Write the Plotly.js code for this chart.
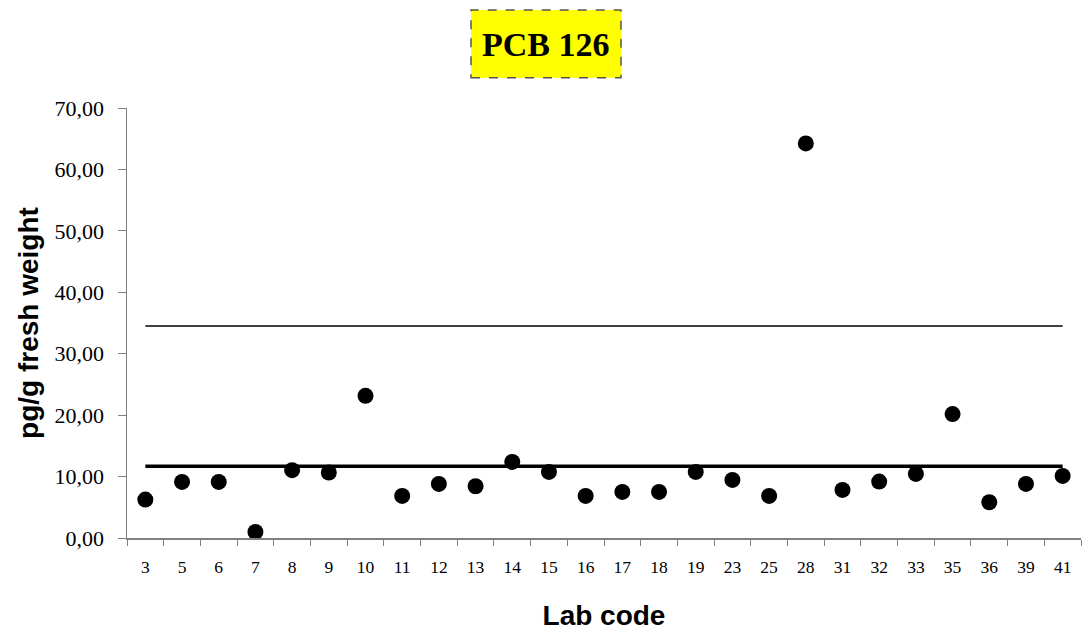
<!DOCTYPE html>
<html>
<head>
<meta charset="utf-8">
<script src="https://cdn.plot.ly/plotly-3.0.1.min.js"></script>
<style>html,body{margin:0;padding:0;background:#fff;}#chart{width:1082px;height:633px;}</style>
</head>
<body>
<div id="chart"></div>
<script>
// Data
const labCodes = ["3","5","6","7","8","9","10","11","12","13","14","15","16","17","18","19","23","25","28","31","32","33","35","36","39","41"];
const values = [6.26,9.13,9.13,0.98,11.04,10.66,23.15,6.85,8.80,8.43,12.39,10.76,6.85,7.50,7.50,10.76,9.46,6.85,64.23,7.83,9.19,10.43,20.17,5.82,8.80,10.10];
const assignedValue = 11.69;
const upperLimit = 34.51;
const yTickVals = [0,10,20,30,40,50,60,70];
const yTickText = ["0,00","10,00","20,00","30,00","40,00","50,00","60,00","70,00"];
const chartTitle = "PCB 126";

const lineX = [labCodes[0], labCodes[labCodes.length-1]];

const traces = [
  {x: lineX, y: [upperLimit, upperLimit], type: "scatter", mode: "lines",
   line: {color: "#000", width: 1.5}, hoverinfo: "skip", showlegend: false},
  {x: lineX, y: [assignedValue, assignedValue], type: "scatter", mode: "lines",
   line: {color: "#000", width: 3.5}, hoverinfo: "skip", showlegend: false},
  {x: labCodes, y: values, type: "scatter", mode: "markers",
   marker: {color: "#000", size: 16}, showlegend: false}
];

const layout = {
  width: 1082, height: 633,
  margin: {l: 127, r: 1, t: 108, b: 95},
  paper_bgcolor: "#fff", plot_bgcolor: "#fff",
  showlegend: false,
  xaxis: {
    type: "category", categoryorder: "array", categoryarray: labCodes,
    range: [-0.5, labCodes.length - 0.5],
    tickson: "boundaries", ticks: "outside", ticklen: 6, tickcolor: "#808080",
    showline: true, linecolor: "#808080", linewidth: 1.5,
    showgrid: false, zeroline: false,
    tickfont: {family: "Liberation Serif", size: 17.5, color: "#000"},
    ticklabelstandoff: 12,
    title: {text: "Lab code", font: {family: "Liberation Sans", size: 28, color: "#000", weight: "bold"}, standoff: 30},
    automargin: false
  },
  yaxis: {
    range: [0, 70], tickvals: yTickVals, ticktext: yTickText,
    ticks: "outside", ticklen: 8, tickcolor: "#808080",
    showline: true, linecolor: "#808080", linewidth: 1.5,
    showgrid: false, zeroline: false,
    tickfont: {family: "Liberation Serif", size: 22, color: "#000"},
    ticklabelstandoff: 9,
    title: {text: "pg/g fresh weight", font: {family: "Liberation Sans", size: 28, color: "#000", weight: "bold"}, standoff: 8},
    automargin: false
  },
  shapes: [{
    type: "rect", xref: "paper", yref: "paper",
    x0: (471 - 127) / 954, x1: (621 - 127) / 954,
    y0: 1 + (108 - 77.7) / 430, y1: 1 + (108 - 10) / 430,
    fillcolor: "#ffff00", line: {color: "#555", width: 1.5, dash: "dash"}, layer: "below"
  }],
  annotations: [{
    text: "<b>" + chartTitle + "</b>", xref: "paper", yref: "paper",
    x: (546 - 127) / 954, y: 1 + (108 - 44) / 430, xanchor: "center", yanchor: "middle",
    showarrow: false, font: {family: "Liberation Serif", size: 34, color: "#000"}
  }]
};

Plotly.newPlot("chart", traces, layout, {displayModeBar: false, staticPlot: true});
</script>
</body>
</html>
